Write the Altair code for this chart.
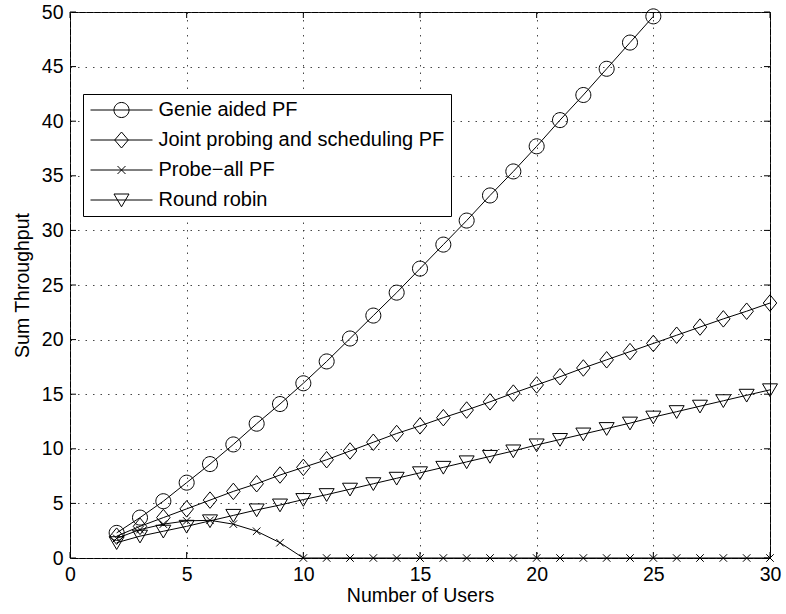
import altair as alt
import pandas as pd

# ---------------- data ----------------
series_names = ["Genie aided PF", "Joint probing and scheduling PF",
                "Probe\u2212all PF", "Round robin"]

users_genie = list(range(2, 26))
users_all = list(range(2, 31))

genie = [2.3, 3.7, 5.2, 6.9, 8.6, 10.4, 12.3, 14.1, 16.0, 18.0, 20.1, 22.2,
         24.3, 26.5, 28.7, 30.9, 33.2, 35.4, 37.7, 40.1, 42.4, 44.8, 47.2, 49.6]
joint = [2.0, 2.9, 3.7, 4.5, 5.3, 6.1, 6.8, 7.6, 8.3, 9.0, 9.8, 10.6, 11.4,
         12.1, 12.85, 13.55, 14.3, 15.1, 15.85, 16.6, 17.4, 18.15, 18.9,
         19.65, 20.4, 21.15, 21.9, 22.6, 23.35]
probe = [1.8, 2.6, 3.1, 3.4, 3.45, 3.1, 2.45, 1.4, 0, 0, 0, 0, 0, 0, 0, 0,
         0, 0, 0, 0, 0, 0, 0, 0, 0, 0, 0, 0, 0]
round_robin = [1.4, 2.0, 2.45, 2.9, 3.4, 3.9, 4.4, 4.85, 5.35, 5.8, 6.3, 6.8,
               7.3, 7.8, 8.3, 8.8, 9.3, 9.8, 10.35, 10.85, 11.35, 11.85,
               12.35, 12.9, 13.4, 13.9, 14.4, 14.9, 15.4]

x_ticks = [0, 5, 10, 15, 20, 25, 30]
y_ticks = [0, 5, 10, 15, 20, 25, 30, 35, 40, 45, 50]

# ---------------- table built from the lists ----------------
rows = []
for name, xs, ys in [(series_names[0], users_genie, genie),
                     (series_names[1], users_all, joint),
                     (series_names[2], users_all, probe),
                     (series_names[3], users_all, round_robin)]:
    for u, v in zip(xs, ys):
        rows.append({"users": u, "value": v, "series": name})
df = pd.DataFrame(rows)

FONT = "Liberation Sans"
FS = 19.5
W, H = 700, 546
TICK = 6

# marker shapes (unit box, scaled by sqrt(size)/2)
marker_paths = [
    "M1,0A1,1 0 1,1 -1,0A1,1 0 1,1 1,0Z",
    "M-0.9,0L0,-1.1L0.9,0L0,1.1Z",
    "M-0.5,-0.5L0.5,0.5M-0.5,0.5L0.5,-0.5",
    "M-1,-0.8L1,-0.8L0,0.9Z",
]
# legend shapes: a line segment with the marker in the middle
# (unit = 8 px with size 256; the line spans 62 px)
L = 3.875
legend_paths = [
    "M-%.3f,0L%.3f,0M0.94,0A0.94,0.94 0 1,1 -0.94,0A0.94,0.94 0 1,1 0.94,0Z" % (L, L),
    "M-%.3f,0L%.3f,0M-0.85,0L0,-1.0L0.85,0L0,1.0Z" % (L, L),
    "M-%.3f,0L%.3f,0M-0.5,-0.5L0.5,0.5M-0.5,0.5L0.5,-0.5" % (L, L),
    "M-%.3f,0L%.3f,0M-0.94,-0.75L0.94,-0.75L0,0.85Z" % (L, L),
]

x_scale = alt.Scale(domain=[0, 30], nice=False, zero=False)
y_scale = alt.Scale(domain=[0, 50], nice=False, zero=False)

x_axis = alt.Axis(values=x_ticks, title="Number of Users", grid=True,
                  ticks=False, domain=False, labelFlush=False,
                  labelOverlap=False, labelPadding=7, titlePadding=3,
                  format="d")
y_axis = alt.Axis(values=y_ticks, title="Sum Throughput", grid=True,
                  ticks=False, domain=False, labelFlush=False,
                  labelOverlap=False, labelPadding=7, titlePadding=9,
                  format="d")

base = alt.Chart(df).encode(
    x=alt.X("users:Q", scale=x_scale, axis=x_axis),
    y=alt.Y("value:Q", scale=y_scale, axis=y_axis),
)

lines = base.mark_line(color="black", strokeWidth=1).encode(
    detail="series:N")

points = base.mark_point(filled=False, color="black", strokeWidth=1,
                         size=225, opacity=1).encode(
    shape=alt.Shape("series:N",
                    scale=alt.Scale(domain=series_names, range=marker_paths),
                    legend=None))

legend_layer = alt.Chart(df).transform_filter("false").mark_point(
    filled=False, color="black", strokeWidth=1, size=256, opacity=1
).encode(
    x=alt.X("users:Q", scale=x_scale),
    y=alt.Y("value:Q", scale=y_scale),
    shape=alt.Shape(
        "series:N",
        scale=alt.Scale(domain=series_names, range=legend_paths),
        legend=alt.Legend(
            title=None, orient="none", legendX=13, legendY=82,
            strokeColor="black", fillColor="white", padding=6,
            rowPadding=10, labelFont=FONT, labelFontSize=20,
            labelColor="black", labelOffset=27, labelLimit=0,
            symbolSize=256, symbolOffset=22.5, symbolStrokeColor="black",
            symbolStrokeWidth=1, symbolFillColor="transparent",
            cornerRadius=0,
        ),
    ),
)

# inward tick marks on all four sides
xt = pd.DataFrame({"users": x_ticks})
yt = pd.DataFrame({"value": y_ticks})
tick_bottom = alt.Chart(xt).mark_rule(color="black", strokeWidth=1).encode(
    x=alt.X("users:Q", scale=x_scale), y=alt.value(H), y2=alt.value(H - TICK))
tick_top = alt.Chart(xt).mark_rule(color="black", strokeWidth=1).encode(
    x=alt.X("users:Q", scale=x_scale), y=alt.value(0), y2=alt.value(TICK))
tick_left = alt.Chart(yt).mark_rule(color="black", strokeWidth=1).encode(
    y=alt.Y("value:Q", scale=y_scale), x=alt.value(0), x2=alt.value(TICK))
tick_right = alt.Chart(yt).mark_rule(color="black", strokeWidth=1).encode(
    y=alt.Y("value:Q", scale=y_scale), x=alt.value(W), x2=alt.value(W - TICK))

chart = alt.layer(
    lines, points, tick_bottom, tick_top, tick_left, tick_right, legend_layer
).resolve_scale(shape="independent").properties(
    width=W, height=H,
    padding={"left": 70, "top": 12, "right": 16, "bottom": 56},
    autosize=alt.AutoSizeParams(type="none"),
    background="white",
).configure_view(
    stroke="black", strokeWidth=1
).configure_axis(
    labelFont=FONT, labelFontSize=FS, labelColor="black",
    titleFont=FONT, titleFontSize=FS, titleColor="black",
    titleFontWeight="normal",
    gridColor="#333333", gridDash=[1.5, 6], gridWidth=1, gridOpacity=0.9,
)

chart.save("out.html", embed_options={"renderer": "svg", "actions": False})
